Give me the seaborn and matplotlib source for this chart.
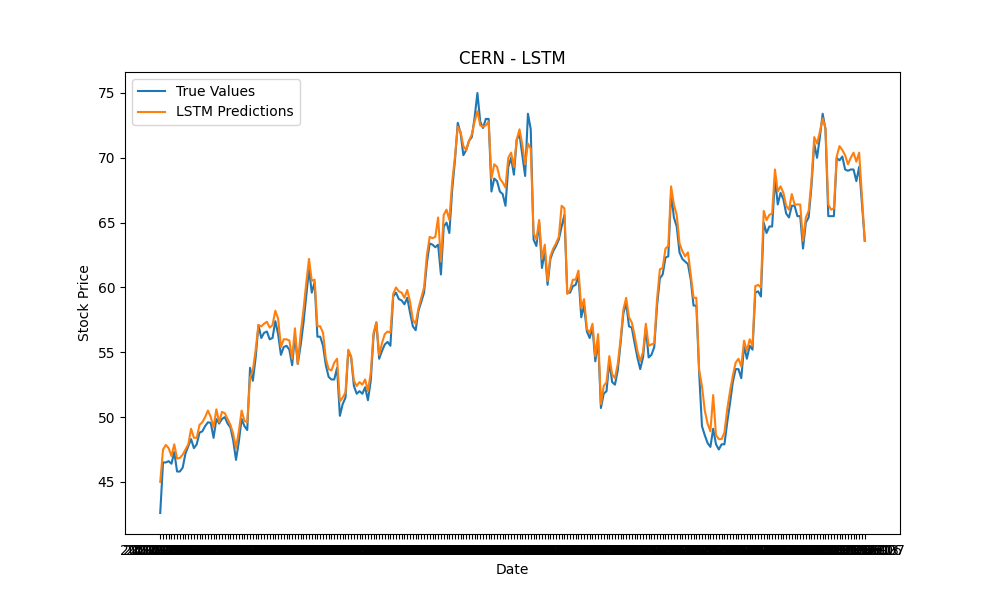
import matplotlib
matplotlib.use("Agg")
import matplotlib.pyplot as plt
import seaborn as sns
import pandas as pd

true_values = [
    42.6, 46.5, 46.5, 46.6, 46.4, 47.3, 45.8, 45.8, 46.1, 47.2,
    47.75, 48.3, 47.6, 47.9, 48.8, 48.9, 49.3, 49.6, 49.55, 48.4,
    49.85, 49.5, 49.85, 50.0, 49.5, 49.2, 48.2, 46.7, 48.1, 49.85,
    49.3, 49.0, 53.8, 52.8, 54.6, 57.1, 56.1, 56.5, 56.6, 56.0,
    56.1, 57.4, 56.4, 54.8, 55.4, 55.5, 55.2, 54.0, 56.3, 54.1,
    55.5, 57.2, 59.3, 61.4, 59.6, 60.4, 56.2, 56.2, 55.5, 54.0,
    53.1, 52.9, 52.9, 53.8, 50.1, 51.0, 51.5, 55.1, 54.6, 52.4,
    51.8, 52.0, 51.8, 52.3, 51.3, 52.8, 56.3, 57.3, 54.5, 55.1,
    55.6, 55.8, 55.5, 59.3, 59.6, 59.1, 59.0, 58.7, 59.2, 58.05,
    57.0, 56.7, 58.2, 58.9, 59.6, 61.9, 63.4, 63.3, 63.1, 63.3,
    61.0, 64.7, 65.0, 64.2, 67.5, 69.8, 72.7, 71.9, 70.2, 70.6,
    71.3, 71.6, 73.1, 75.0, 72.8, 72.3, 73.0, 73.0, 67.4, 68.4,
    68.2, 67.4, 67.2, 66.3, 69.3, 70.0, 68.7, 71.4, 71.8, 70.2,
    68.6, 73.4, 72.2, 63.7, 63.2, 65.0, 61.5, 62.8, 60.2, 62.2,
    62.8, 63.2, 63.7, 64.7, 65.6, 59.6, 59.6, 60.1, 60.2, 60.9,
    57.7, 58.6, 56.6, 56.1, 56.9, 54.3, 55.9, 50.7, 51.8, 52.0,
    54.3, 52.7, 52.5, 53.6, 55.7, 58.0, 58.8, 57.0, 56.9, 55.7,
    54.6, 53.7, 54.6, 56.9, 54.6, 54.8, 55.4, 58.6, 60.7, 61.0,
    62.3, 62.4, 67.3, 65.4, 64.7, 62.7, 62.2, 62.0, 61.8, 60.6,
    58.6, 58.6, 53.4, 49.3, 48.6, 48.0, 47.7, 49.1, 47.9, 47.5,
    47.9, 47.9, 49.6, 51.1, 52.7, 53.7, 53.7, 53.0, 55.5, 54.5,
    55.5, 55.2, 59.6, 59.7, 59.3, 65.0, 64.2, 64.7, 64.7, 68.4,
    66.4, 67.3, 66.8, 65.7, 65.4, 66.3, 66.3, 65.5, 65.5, 63.0,
    65.0, 65.4, 67.8, 71.1, 70.0, 71.6, 73.4, 72.2, 65.5, 65.5,
    65.5, 70.0, 69.8, 70.1, 69.1, 69.0, 69.1, 69.1, 68.2, 69.3,
    66.5, 63.6,
]

lstm_predictions = [
    45.0, 47.5, 47.85, 47.6, 47.0, 47.9, 46.8, 46.85, 47.1, 47.5,
    47.9, 49.1, 48.4, 48.4, 49.4, 49.6, 50.0, 50.5, 50.0, 49.2,
    50.6, 49.6, 50.4, 50.3, 49.85, 49.4, 48.7, 47.6, 48.9, 50.5,
    49.7, 49.6, 53.05, 53.6, 55.2, 57.1, 57.0, 57.2, 57.35, 56.9,
    57.1, 58.2, 57.6, 55.4, 56.0, 56.0, 55.9, 54.5, 56.85, 54.1,
    56.4, 58.2, 60.3, 62.2, 60.5, 60.6, 57.0, 57.0, 56.5, 54.5,
    53.7, 53.6, 54.2, 54.5, 51.2, 51.5, 51.9, 55.2, 54.7, 52.8,
    52.4, 52.7, 52.5, 52.9, 52.0, 53.4, 56.5, 57.3, 54.8, 55.7,
    56.4, 56.6, 56.5, 59.5, 60.0, 59.7, 59.6, 59.2, 59.8, 58.9,
    57.5, 57.2, 58.4, 59.2, 60.0, 62.5, 63.9, 63.8, 63.9, 65.4,
    62.0, 65.6, 66.0, 65.2, 68.1, 70.1, 72.4, 72.0, 70.9, 70.6,
    71.3, 71.8, 72.8, 73.6, 72.5, 72.4, 72.5, 72.8, 68.4, 69.5,
    69.3, 68.4, 68.1, 67.7, 70.0, 70.4, 69.3, 71.4, 72.2, 71.0,
    69.5, 71.1, 70.7, 64.2, 63.7, 65.2, 62.2, 63.3, 60.5, 62.4,
    63.0, 63.4, 63.9, 66.3, 66.1, 59.5, 59.8, 60.6, 60.6, 61.3,
    58.4, 59.1, 56.8, 56.5, 57.2, 54.7, 56.4, 51.0, 52.4, 52.7,
    54.7, 53.3, 53.0, 54.1, 56.0, 58.3, 59.2, 57.7, 57.3, 56.3,
    55.1, 54.3, 55.0, 57.2, 55.5, 55.6, 55.7, 59.1, 61.4, 61.5,
    63.0, 63.2, 67.8, 66.4, 65.6, 63.4, 62.8, 62.4, 62.7, 61.0,
    59.2, 59.2, 53.6, 52.4, 50.5, 49.5, 48.9, 51.7, 48.6, 48.3,
    48.3, 48.8, 50.6, 52.0, 53.2, 54.2, 54.5, 53.9, 55.9, 55.1,
    56.0, 55.5, 60.1, 60.2, 60.0, 65.9, 65.2, 65.6, 65.7, 69.1,
    67.4, 67.8, 67.3, 66.3, 66.0, 67.2, 66.4, 66.4, 66.4, 63.6,
    65.4, 65.9, 68.2, 71.6, 71.1, 72.0, 73.05, 72.3, 66.4, 66.0,
    66.1, 70.1, 70.9, 70.6, 70.2, 69.5, 70.0, 70.4, 69.7, 70.4,
    67.0, 63.6,
]

dates = [d.strftime("%Y-%m-%d") for d in pd.bdate_range(end="2022-06-07", periods=len(true_values))]

df = pd.DataFrame({"Date": dates, "True": true_values, "Pred": lstm_predictions})

fig, ax = plt.subplots(figsize=(10, 6), dpi=100)
sns.lineplot(data=df, x="Date", y="True", ax=ax, label="True Values", color="#1f77b4", linewidth=1.5)
sns.lineplot(data=df, x="Date", y="Pred", ax=ax, label="LSTM Predictions", color="#ff7f0e", linewidth=1.5)

ax.set_title("CERN - LSTM")
ax.set_xlabel("Date")
ax.set_ylabel("Stock Price")
ax.legend(loc="upper left")

fig.savefig("out.png", dpi=100)
